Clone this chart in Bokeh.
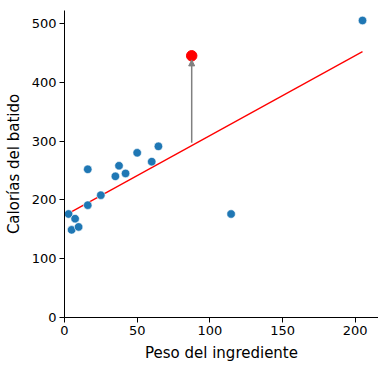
from bokeh.plotting import figure
from bokeh.models import Range1d, FixedTicker, Arrow, NormalHead
from bokeh.embed import file_html
from bokeh.resources import INLINE

# blue observations
peso = [2.8, 4.9, 7.3, 9.7, 16, 16, 25, 35, 37.5, 42, 50, 60, 64.6, 114.6, 205]
calorias = [176, 149, 168, 154, 252, 191, 208, 240, 258, 245, 280, 265, 291, 176, 505]
# highlighted observation
peso_destacado = [87.5]
calorias_destacado = [445]
# regression line endpoints
ajuste_x = [2.8, 205]
ajuste_y = [177, 452]
# residual arrow: from fitted value to just below highlighted point
flecha_y0 = 297
flecha_y1 = 438

x_ticks = [0, 50, 100, 150, 200]
y_ticks = [0, 100, 200, 300, 400, 500]

p = figure(width=378, height=364, output_backend="svg", toolbar_location=None,
           x_range=Range1d(0, 216), y_range=Range1d(0, 522),
           min_border_left=64, min_border_right=0, min_border_top=10, min_border_bottom=46)
p.outline_line_color = None
p.xgrid.visible = False
p.ygrid.visible = False
p.background_fill_color = "white"
p.border_fill_color = "white"

for ax in (p.xaxis, p.yaxis):
    ax.axis_line_color = "black"
    ax.axis_line_width = 1
    ax.major_tick_line_color = "black"
    ax.major_tick_in = 0
    ax.major_tick_out = 5
    ax.minor_tick_line_color = None
    ax.major_label_text_font = "DejaVu Sans"
    ax.major_label_text_font_size = "13px"
    ax.major_label_text_color = "black"
    ax.axis_label_text_font = "DejaVu Sans"
    ax.axis_label_text_font_size = "15px"
    ax.axis_label_text_font_style = "normal"
    ax.axis_label_text_color = "black"

p.xaxis.ticker = FixedTicker(ticks=x_ticks)
p.yaxis.ticker = FixedTicker(ticks=y_ticks)
p.xaxis.axis_label = "Peso del ingrediente"
p.yaxis.axis_label = "Calorías del batido"
p.xaxis.major_label_standoff = 3
p.yaxis.major_label_standoff = 3
p.xaxis.axis_label_standoff = 6
p.yaxis.axis_label_standoff = 6

p.line(ajuste_x, ajuste_y, line_color="red", line_width=1.3)

p.add_layout(Arrow(end=NormalHead(size=6, fill_color="gray", line_color="gray"),
                   x_start=peso_destacado[0], y_start=flecha_y0,
                   x_end=peso_destacado[0], y_end=flecha_y1,
                   line_color="gray", line_width=1.5))

p.scatter(peso, calorias, size=8.5, fill_color="#1f77b4", line_color="white", line_width=0.6)
p.scatter(peso_destacado, calorias_destacado, size=10.5, fill_color="red", line_color="red")

open("out.html", "w").write(file_html(p, INLINE))
